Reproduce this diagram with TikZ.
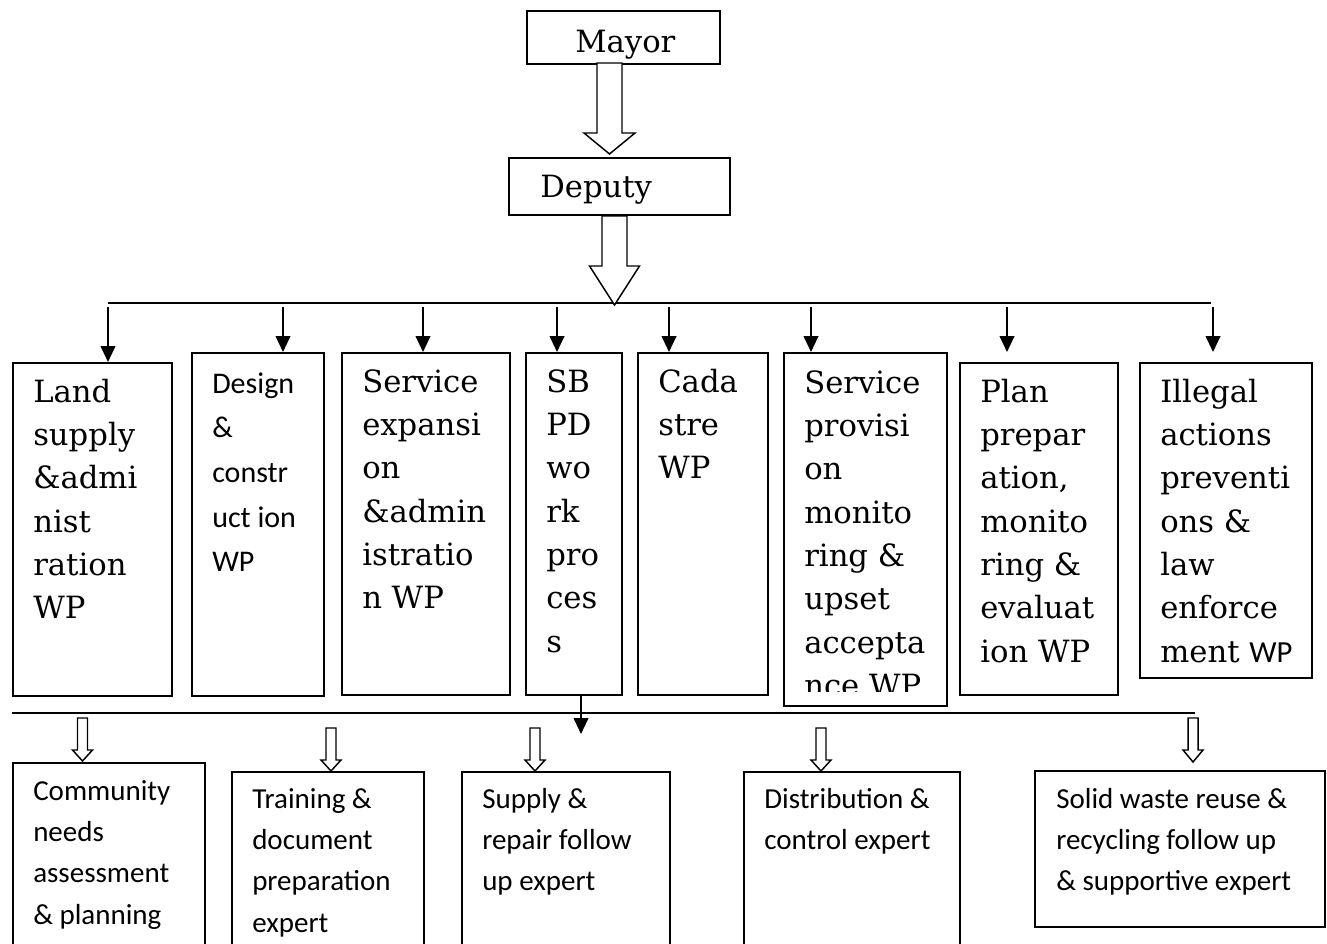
\documentclass[tikz,border=0pt]{standalone}
\usepackage{fontspec}
\setmainfont{DejaVu Serif}
\newfontfamily\carl{Carlito}
\usetikzlibrary{arrows.meta}
\newcommand\bx[5]{\node[box, anchor=north west, minimum width={(#4-#2)*0.75pt}, minimum height={(#5-#3)*0.75pt}] (#1) at (#2,#3) {};}
\newcommand\harrow[6]{\draw[hol] (#1-#5,#2) -- (#1+#5,#2) -- (#1+#5,#3) -- (#1+#6,#3) -- (#1,#4) -- (#1-#6,#3) -- (#1-#5,#3) -- cycle;}
\tikzset{
 box/.style={draw, line width=1.5pt, inner sep=0pt, fill=white},
 bus/.style={line width=1.1pt},
 arr/.style={line width=1.5pt, -{Triangle[length=12pt,width=11pt]}},
 hol/.style={draw, fill=white, line width=1.1pt, line join=miter},
 st/.style={anchor=north west, inner sep=0pt, align=left, font=\fontsize{23}{32.5}\selectfont, yshift=22.75pt},
 ss/.style={anchor=north west, inner sep=0pt, align=left, font=\carl\fontsize{21.75}{31}\selectfont, yshift=21.7pt},
 sd/.style={anchor=north west, inner sep=0pt, align=left, font=\carl\fontsize{22.5}{33.5}\selectfont, yshift=23.45pt},
 sl/.style={anchor=base west, inner sep=0pt, font=\fontsize{23}{32.5}\selectfont}
}
\begin{document}
\begin{tikzpicture}[x=0.75pt,y=-0.75pt]
\useasboundingbox (0,0) rectangle (1327,943);
\clip (0,0) rectangle (1327,943);
\fill[white] (0,0) rectangle (1327,943);

% top
\bx{mayor}{526}{10}{719}{63}
\node[sl] (mayorT) at (575,52) {Mayor};
\harrow{609.5}{63}{133}{154}{12.5}{25.5}
\bx{deputy}{508}{157}{729}{214}
\node[sl] (deputyT) at (540,197) {Deputy};

% bus 1
\draw[bus] (108,303) coordinate (busA) -- (1211,303) coordinate (busB);
\harrow{614.5}{216}{266}{305}{12.5}{25}

% work process boxes
\bx{land}{12}{362}{171}{695}
\bx{design}{191}{352}{323}{695}
\bx{sexp}{341}{352}{509}{694}
\bx{sbpd}{525}{352}{621}{694}
\bx{cad}{637}{352}{767}{694}
\bx{sprov}{783}{352}{946}{705}
\bx{plan}{959}{362}{1117}{694}
\bx{ill}{1139}{362}{1311}{677}

\coordinate (t1) at (108,307);
\coordinate (t2) at (283,307);
\coordinate (t3) at (423,307);
\coordinate (t4) at (557,307);
\coordinate (t5) at (669,307);
\coordinate (t6) at (811,307);
\coordinate (t7) at (1007,307);
\coordinate (t8) at (1213,307);
\draw[arr] (t1) -- (t1 |- land.north);
\draw[arr] (t2) -- (t2 |- design.north);
\draw[arr] (t3) -- (t3 |- sexp.north);
\draw[arr] (t4) -- (t4 |- sbpd.north);
\draw[arr] (t5) -- (t5 |- cad.north);
\draw[arr] (t6) -- (t6 |- sprov.north);
\draw[arr] (t7) -- ++(0,45) coordinate (e7);
\draw[arr] (t8) -- ++(0,45) coordinate (e8);

\node[st] (landT) at (33,402) {\strut Land\\supply\\\&admi\\nist\\ration\\WP};
\node[sd] (designT) at (212,393) {\strut Design\\\&\\constr\\uct ion\\WP};
\node[st] (sexpT) at (362,392) {\strut Service\\expansi\\on\\\&admin\\istratio\\n WP};
\node[st] (sbpdT) at (546,392) {\strut SB\\PD\\wo\\rk\\pro\\ces\\s};
\node[st] (cadT) at (658,392) {\strut Cada\\stre\\WP};
\begin{scope}
\clip (783,352) rectangle (946,691);
\node[st] (sprovT) at (804,393) {\strut Service\\provisi\\on\\monito\\ring \&\\upset\\accepta\\nce WP};
\end{scope}
\node[st] (planT) at (980,402) {\strut Plan\\prepar\\ation,\\monito\\ring \&\\evaluat\\ion WP};
\node[st] (illT) at (1160,402) {\strut Illegal\\actions\\preventi\\ons \&\\law\\enforce\\ment {\carl WP}};

% bus 2
\draw[bus] (12,713) coordinate (busC) -- (1195,713) coordinate (busD);
\coordinate (s1) at (581,700);
\draw[arr] (sbpd.south -| s1) -- ++(0,38) coordinate (e9);

% experts
\bx{comm}{12}{762}{204}{1000}
\bx{train}{231}{771}{423}{1000}
\bx{supp}{461}{771}{669}{1000}
\bx{dist}{743}{771}{959}{1000}
\bx{solid}{1034}{770}{1324}{926}

\harrow{82.5}{718}{750}{761}{5}{10}
\harrow{331}{728}{760}{771}{5}{10}
\harrow{535}{728}{760}{771}{5}{10}
\harrow{821}{728}{760}{771}{5}{10}
\harrow{1193}{718}{750}{762}{5}{10}

\node[ss] (commT) at (33,800) {\strut Community\\needs\\assessment\\\& planning};
\node[ss] (trainT) at (252,808) {\strut Training \&\\document\\preparation\\expert};
\node[ss] (suppT) at (482,808) {\strut Supply \&\\repair follow\\up expert};
\node[ss] (distT) at (764,808) {\strut Distribution \&\\control expert};
\node[ss] (solidT) at (1056,808) {\strut Solid waste reuse \&\\recycling follow up\\\& supportive expert};
\end{tikzpicture}
\end{document}
